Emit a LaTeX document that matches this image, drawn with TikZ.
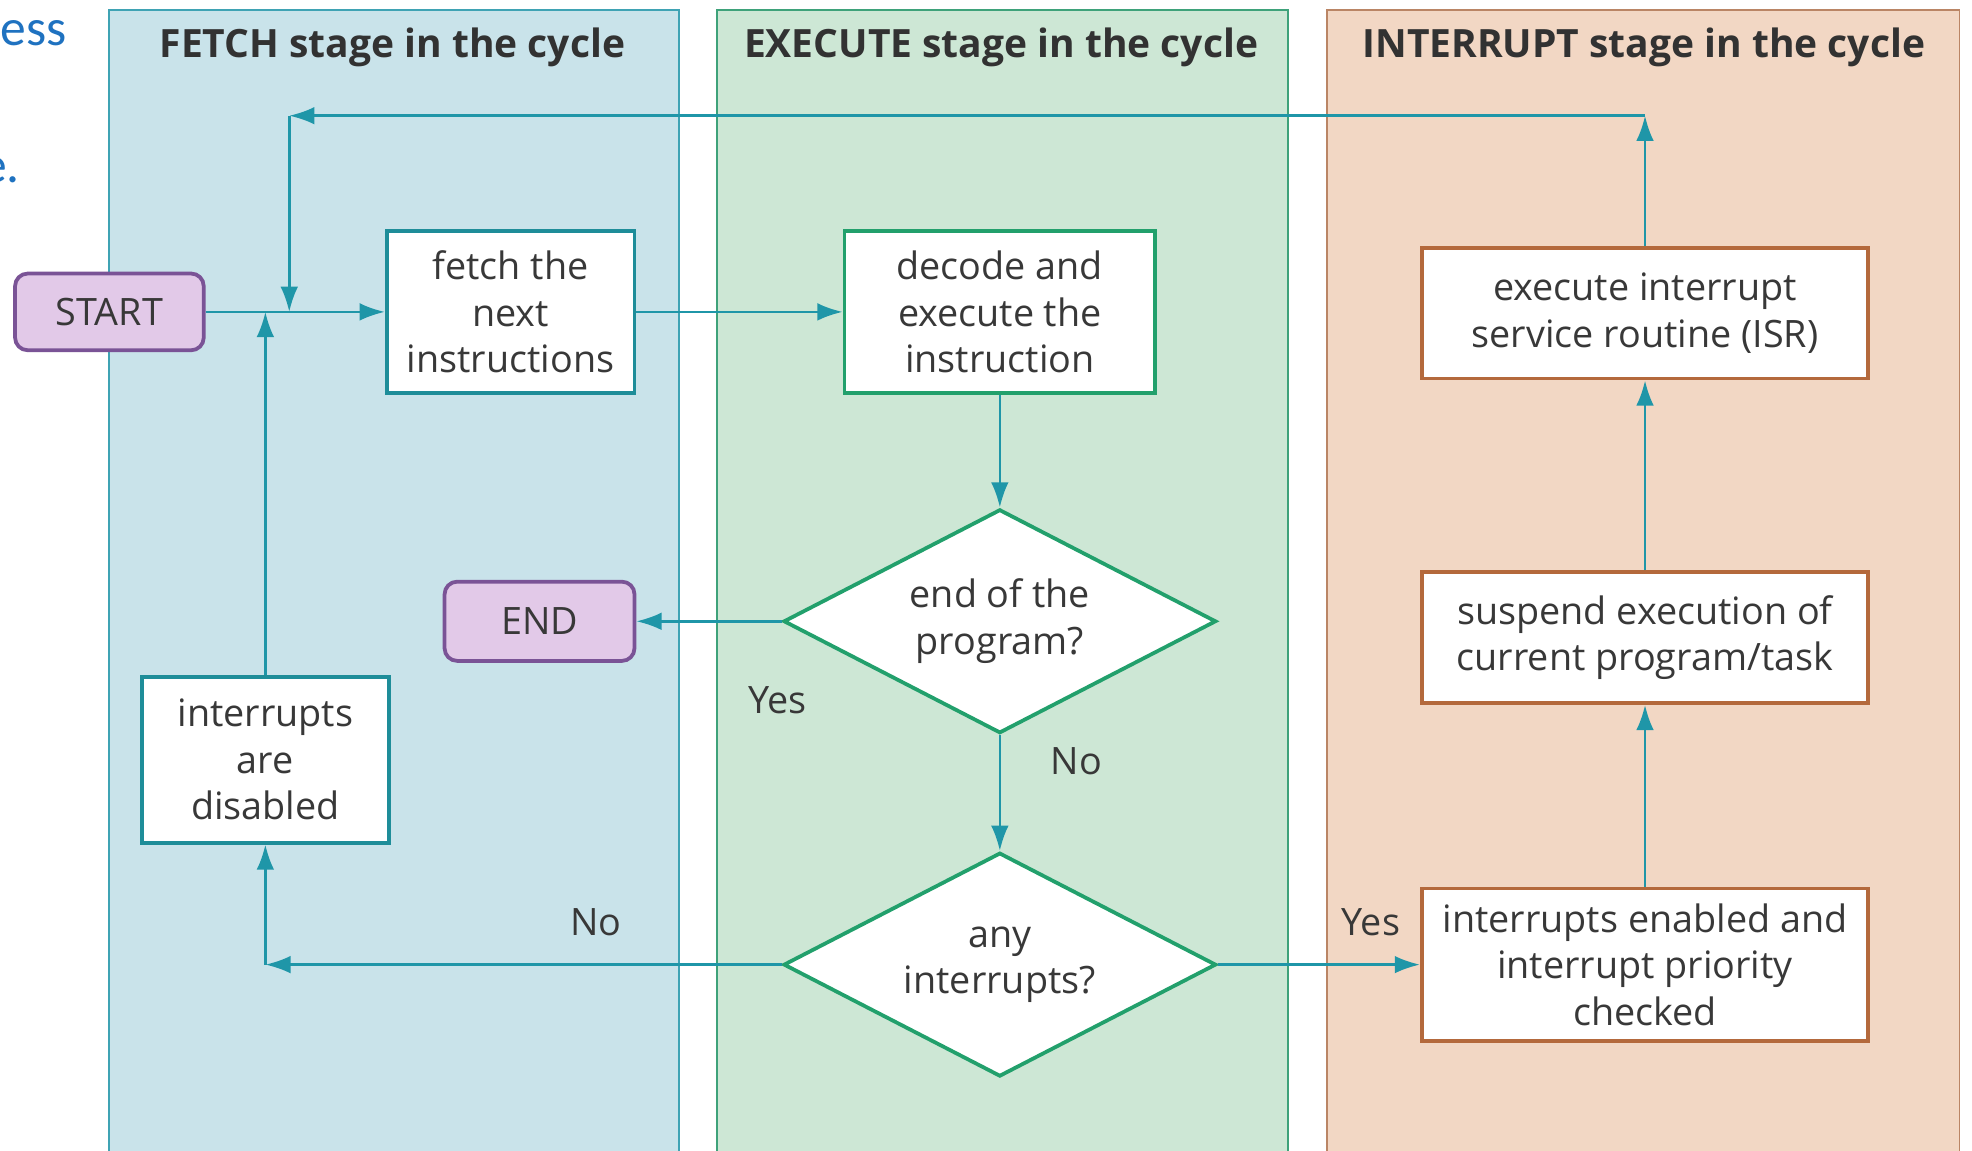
\documentclass[tikz,border=0pt]{standalone}
\usepackage{fontspec}
\setmainfont{Open Sans}
\newfontfamily\slidefont{Carlito}
\usetikzlibrary{shapes.geometric,arrows.meta}
\definecolor{fetchfill}{HTML}{C9E3EA}
\definecolor{fetchline}{HTML}{3FA3B4}
\definecolor{execfill}{HTML}{CDE7D5}
\definecolor{execline}{HTML}{3EA27A}
\definecolor{intfill}{HTML}{F2D7C4}
\definecolor{intline}{HTML}{BA8565}
\definecolor{arrowc}{HTML}{1F96A8}
\definecolor{fboxc}{HTML}{1E8D99}
\definecolor{eboxc}{HTML}{22A06C}
\definecolor{iboxc}{HTML}{B4693C}
\definecolor{termfill}{HTML}{E2C9E8}
\definecolor{termline}{HTML}{7A5396}
\definecolor{txt}{HTML}{383838}
\definecolor{slideblue}{HTML}{1F72C0}
\tikzset{
  panel/.style={line width=1.5pt},
  ptitle/.style={font=\fontsize{31}{36}\selectfont\bfseries, text=txt!90!black},
  tbox/.style={draw, fill=white, line width=3pt, align=center, inner sep=0pt,
    text=txt, font=\fontsize{30}{37}\selectfont},
  term/.style={draw=termline, fill=termfill, line width=3pt, rounded corners=10pt,
    inner sep=0pt, text=txt, font=\fontsize{30}{37}\selectfont},
  dec/.style={diamond, draw=eboxc, fill=white, line width=3pt,
    inner sep=0pt, minimum width=344pt, minimum height=178pt},
  dectext/.style={align=center, inner sep=0pt, text=txt, font=\fontsize{30}{37}\selectfont},
  lbl/.style={text=txt, font=\fontsize{30}{37}\selectfont},
  frag/.style={inner sep=0pt, text=slideblue, font=\fontsize{41}{46}\slidefont},
  arr/.style={draw=arrowc, line width=2pt, -{Latex[length=20pt,width=14pt]}, arrowc},
}
\begin{document}
\begin{tikzpicture}[x=1pt,y=-1pt]
\useasboundingbox (0,0) rectangle (1568,915);
\fill[white] (0,0) rectangle (1568,915);
% slide fragments
\node[frag, anchor=base west] (frag1) at (0.5,36) {ess};
\node[frag, anchor=base east] (frag2) at (16,145) {e.};
% panels
\path[panel, fill=fetchfill, draw=fetchline] (87,8) rectangle (540,930);
\path[panel, fill=execfill, draw=execline] (570,8) rectangle (1024,930);
\path[panel, fill=intfill, draw=intline] (1055,8) rectangle (1558,930);
\node[ptitle] (t1) at (312,38) {FETCH stage in the cycle};
\node[ptitle] (t2) at (796,38) {EXECUTE stage in the cycle};
\node[ptitle] (t3) at (1307,38) {INTERRUPT stage in the cycle};
% nodes
\node[term, minimum width=150pt, minimum height=61pt] (start) at (87,248) {START};
\node[tbox, draw=fboxc, minimum width=197pt, minimum height=129pt] (fetch) at (406,248) {fetch the\\next\\instructions};
\node[tbox, draw=eboxc, minimum width=247pt, minimum height=129pt] (decode) at (795,248) {decode and\\execute the\\instruction};
\node[dec] (d1) at (795,494) {};
\node[dectext] (d1t) at (d1.center) {end of the\\program?};
\node[term, minimum width=151pt, minimum height=63pt] (endn) at (429,494) {END};
\node[tbox, draw=fboxc, minimum width=196pt, minimum height=132pt] (dis) at (211,604) {interrupts\\are\\disabled};
\node[dec] (d2) at (795,767) {};
\node[dectext] (d2t) at (d2.center) {any\\interrupts?};
\node[tbox, draw=iboxc, minimum width=355pt, minimum height=121pt] (chk) at (1308,767) {interrupts enabled and\\interrupt priority\\checked};
\node[tbox, draw=iboxc, minimum width=355pt, minimum height=104pt] (susp) at (1308,507) {suspend execution of\\current program/task};
\node[tbox, draw=iboxc, minimum width=355pt, minimum height=104pt] (isr) at (1308,249) {execute interrupt\\service routine (ISR)};
% labels
\node[lbl] (yes1) at (618,557) {Yes};
\node[lbl] (no1) at (856,605) {No};
\node[lbl] (no2) at (474,733) {No};
\node[lbl] (yes2) at (1090,733) {Yes};
% junctions
\coordinate (j1) at (230,248);
\coordinate (j2) at (211,248);
\coordinate (top1) at (1308,92);
\coordinate (top2) at (230,92);
\coordinate (bot) at (211,767);
% connectors
\draw[arr] (start) -- (fetch);
\draw[arr] (isr) -- (top1);
\draw[arr] (top1) -- (top2);
\draw[arr] (top2) -- (j1);
\draw[arr] (fetch) -- (decode);
\draw[arr] (decode) -- (d1);
\draw[arr] (d1) -- (endn);
\draw[arr] (d1) -- (d2);
\draw[arr] (d2) -- (bot);
\draw[arr] (bot) -- (dis);
\draw[arr] (dis) -- (j2);
\draw[arr] (d2) -- (chk);
\draw[arr] (chk) -- (susp);
\draw[arr] (susp) -- (isr);
\end{tikzpicture}
\end{document}
